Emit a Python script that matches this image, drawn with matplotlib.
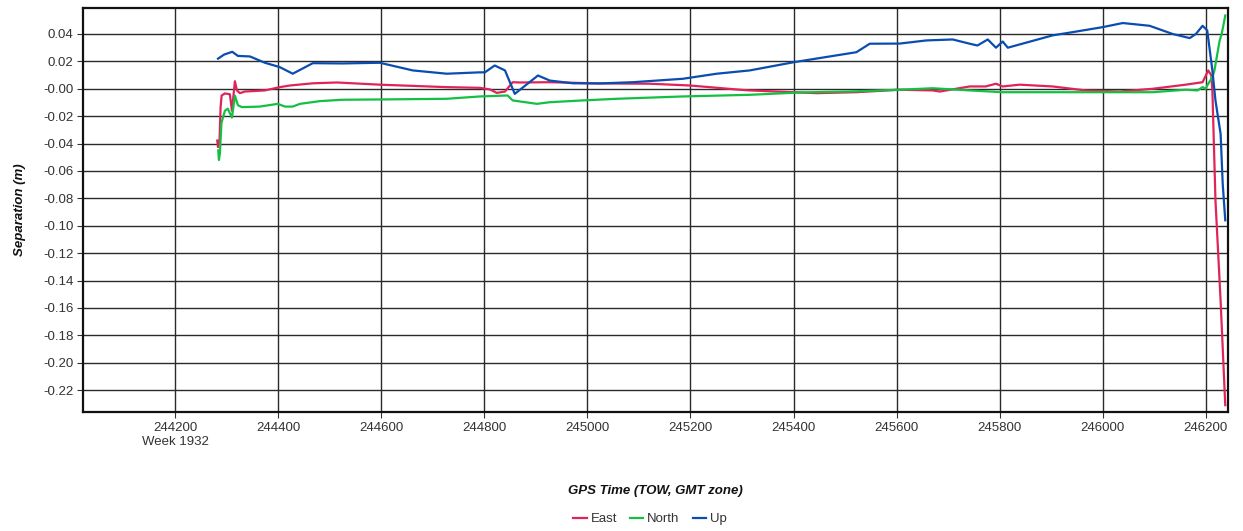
import matplotlib
matplotlib.use("Agg")
import matplotlib.pyplot as plt
from matplotlib.ticker import FixedLocator, FuncFormatter

plt.rcParams['font.family'] = ['Liberation Sans', 'DejaVu Sans']

# GPS time of week (s) and separation (m) per component
up_t = [244283, 244295, 244310.6, 244321.6, 244345, 244374, 244403, 244428, 244467,
        244525, 244597, 244661, 244727, 244791, 244801, 244820, 244840, 244859,
        244904, 244927, 244972, 245024, 245088, 245185, 245251, 245315, 245402,
        245522, 245548, 245606, 245658, 245709, 245742, 245757, 245777, 245793,
        245806, 245816, 245845, 245903, 245936, 246000, 246039, 246091, 246136,
        246169, 246181, 246194, 246203, 246213, 246219, 246229, 246233, 246238]
up_v = [0.022, 0.025, 0.027, 0.024, 0.0236, 0.019, 0.0158, 0.011, 0.0187,
        0.0185, 0.019, 0.0134, 0.011, 0.012, 0.012, 0.017, 0.0134, -0.0037,
        0.0097, 0.006, 0.004, 0.0039, 0.0048, 0.0073, 0.011, 0.0134, 0.0195,
        0.0267, 0.0329, 0.033, 0.0353, 0.036, 0.0329, 0.0316, 0.036, 0.030,
        0.0345, 0.030, 0.033, 0.039, 0.041, 0.045, 0.048, 0.046, 0.040,
        0.037, 0.040, 0.046, 0.0426, 0.0134, -0.0086, -0.033, -0.069, -0.096]

east_t = [244281.5, 244283, 244285.7, 244288, 244290, 244296.4, 244306, 244310,
          244315.8, 244319.7, 244325.5, 244335, 244374, 244403, 244422.5, 244467,
          244514, 244597, 244727, 244791, 244811, 244824, 244840, 244855, 244869,
          244927, 245024, 245121, 245199, 245296, 245315, 245445, 245522, 245606,
          245670, 245684, 245742, 245773, 245793, 245806, 245839, 245903, 245967,
          246033, 246097, 246161, 246194, 246205, 246211, 246213, 246219, 246229,
          246238]
east_v = [-0.0378, -0.0426, -0.040, -0.0134, -0.0049, -0.0034, -0.004, -0.016,
          0.0055, -0.0012, -0.0032, -0.002, -0.0012, 0.0012, 0.0024, 0.004,
          0.0046, 0.003, 0.0012, 0.0007, -0.0005, -0.003, -0.002, 0.0048, 0.0046,
          0.0048, 0.0039, 0.0037, 0.0024, -0.0007, -0.0012, -0.0032, -0.0025, -0.0007,
          -0.0012, -0.002, 0.0017, 0.0017, 0.0037, 0.0017, 0.003, 0.0017, -0.0012,
          -0.002, 0.0, 0.003, 0.0048, 0.0134, 0.0097, -0.0012, -0.0815, -0.155,
          -0.231]

north_t = [244283.4, 244284.8, 244286.7, 244289.6, 244296.4, 244302, 244310,
           244315.8, 244321.6, 244329.4, 244364, 244399, 244413, 244428, 244442,
           244481, 244525, 244597, 244727, 244791, 244845, 244855, 244902, 244927,
           244991, 245057, 245185, 245315, 245412, 245509, 245606, 245670, 245742,
           245806, 245903, 246000, 246097, 246161, 246184, 246194, 246200, 246203,
           246213, 246217, 246227, 246231, 246235, 246238]
north_v = [-0.045, -0.052, -0.047, -0.025, -0.016, -0.0145, -0.021,
           -0.005, -0.012, -0.0134, -0.013, -0.011, -0.013, -0.013, -0.011,
           -0.009, -0.008, -0.0078, -0.0073, -0.0056, -0.0049, -0.0085, -0.011, -0.0098,
           -0.0085, -0.0073, -0.0056, -0.0044, -0.0027, -0.002, -0.0007, 0.0004, -0.0012,
           -0.0025, -0.0025, -0.0025, -0.0025, -0.0007, -0.0012, 0.0012, 0.0, 0.0024,
           0.0085, 0.0134, 0.035, 0.040, 0.0475, 0.0535]

x_ticks = [244200, 244400, 244600, 244800, 245000, 245200, 245400, 245600,
           245800, 246000, 246200]
week_label = "Week 1932"
y_ticks = [0.04, 0.02, 0.0, -0.02, -0.04, -0.06, -0.08, -0.10, -0.12, -0.14,
           -0.16, -0.18, -0.20, -0.22]

fig = plt.figure(figsize=(12.43, 5.31), dpi=100)
ax = fig.add_axes([0.0668, 0.224, 0.921, 0.761])

ax.plot(east_t, east_v, color='#E0245A', lw=1.6, label='East', zorder=3)
ax.plot(north_t, north_v, color='#14C043', lw=1.6, label='North', zorder=3)
ax.plot(up_t, up_v, color='#0A4DB0', lw=1.6, label='Up', zorder=4)

ax.set_xlim(244021, 246243)
ax.set_ylim(-0.236, 0.059)

ax.xaxis.set_major_locator(FixedLocator(x_ticks))
ax.yaxis.set_major_locator(FixedLocator(y_ticks))


def fmt_x(v, pos):
    s = f"{int(round(v))}"
    return s + "\n" + week_label if pos == 0 else s


def fmt_y(v, pos):
    s = f"{v:.2f}"
    return "-0.00" if abs(v) < 1e-9 else s


ax.xaxis.set_major_formatter(FuncFormatter(fmt_x))
ax.yaxis.set_major_formatter(FuncFormatter(fmt_y))

ax.grid(True, color='#2a2a2a', lw=1.0, zorder=1)
ax.set_axisbelow(True)
for sp in ax.spines.values():
    sp.set_color('#111111')
    sp.set_linewidth(1.6)

ax.tick_params(axis='both', which='major', labelsize=9.5, colors='#333333',
               length=4, width=0.8, direction='out')
ax.tick_params(axis='x', pad=3)
ax.tick_params(axis='y', pad=3)

ax.set_ylabel("Separation (m)", fontsize=9.5, fontweight='bold',
              fontstyle='italic', color='#111111', labelpad=12)
ax.set_xlabel("GPS Time (TOW, GMT zone)", fontsize=9.5, fontweight='bold',
              fontstyle='italic', color='#111111', labelpad=27)

leg = fig.legend(loc='center', bbox_to_anchor=(0.523, 0.022), ncol=3,
                 frameon=False, fontsize=9.5, handlelength=1.0,
                 handletextpad=0.3, columnspacing=1.0)
for t in leg.get_texts():
    t.set_color('#333333')

fig.savefig("out.png", dpi=100)
